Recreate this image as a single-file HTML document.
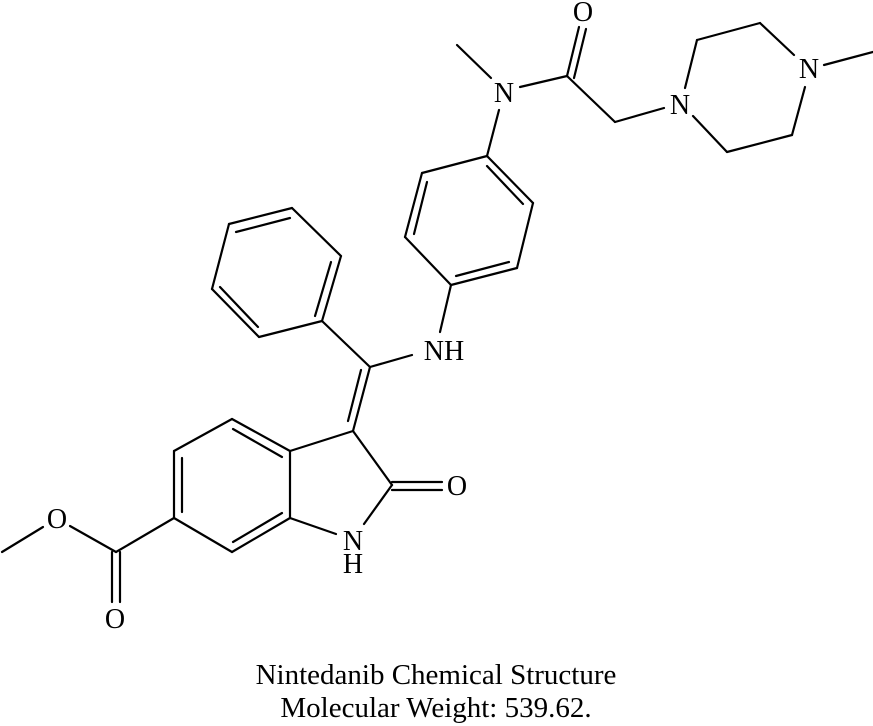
<!DOCTYPE html>
<html><head><style>
html,body{margin:0;padding:0;background:#fff;}
svg{display:block}
text{font-family:"Liberation Serif",serif;fill:#000}
</style></head><body>
<svg width="873" height="726" viewBox="0 0 873 726" xmlns="http://www.w3.org/2000/svg">
<g stroke="#000" stroke-width="2.2" fill="none" stroke-linecap="round">
<line x1="232" y1="419" x2="174" y2="451"/>
<line x1="174" y1="451" x2="174" y2="518"/>
<line x1="174" y1="518" x2="232" y2="552"/>
<line x1="232" y1="552" x2="290" y2="518"/>
<line x1="290" y1="518" x2="290" y2="451"/>
<line x1="290" y1="451" x2="232" y2="419"/>
<line x1="182" y1="458" x2="182" y2="512"/>
<line x1="233" y1="542" x2="282" y2="513"/>
<line x1="233" y1="429" x2="282" y2="457"/>
<line x1="290" y1="451" x2="353" y2="431"/>
<line x1="353" y1="431" x2="392" y2="485"/>
<line x1="392" y1="485" x2="364" y2="524"/>
<line x1="290" y1="518" x2="336" y2="534"/>
<line x1="392" y1="482" x2="442" y2="482"/>
<line x1="392" y1="490" x2="442" y2="490"/>
<line x1="174" y1="518" x2="116" y2="552"/>
<line x1="116" y1="552" x2="70" y2="526"/>
<line x1="43" y1="527" x2="2" y2="552"/>
<line x1="112" y1="552" x2="112" y2="602"/>
<line x1="120" y1="552" x2="120" y2="602"/>
<line x1="370" y1="367" x2="353" y2="431"/>
<line x1="361" y1="370" x2="348" y2="421"/>
<line x1="370" y1="367" x2="322" y2="321"/>
<line x1="292" y1="208" x2="341" y2="256"/>
<line x1="341" y1="256" x2="322" y2="321"/>
<line x1="322" y1="321" x2="259" y2="337"/>
<line x1="259" y1="337" x2="212" y2="289"/>
<line x1="212" y1="289" x2="229" y2="224"/>
<line x1="229" y1="224" x2="292" y2="208"/>
<line x1="236" y1="232" x2="290" y2="218"/>
<line x1="331" y1="262" x2="315" y2="316"/>
<line x1="258" y1="327" x2="220" y2="287"/>
<line x1="370" y1="367" x2="412" y2="355"/>
<line x1="440" y1="332" x2="451" y2="285"/>
<line x1="451" y1="285" x2="517" y2="268"/>
<line x1="517" y1="268" x2="533" y2="203"/>
<line x1="533" y1="203" x2="487" y2="156"/>
<line x1="487" y1="156" x2="422" y2="173"/>
<line x1="422" y1="173" x2="405" y2="237"/>
<line x1="405" y1="237" x2="451" y2="285"/>
<line x1="487" y1="166" x2="523" y2="204"/>
<line x1="456" y1="276" x2="509" y2="262"/>
<line x1="427" y1="182" x2="414" y2="234"/>
<line x1="487" y1="156" x2="499" y2="110"/>
<line x1="457" y1="45" x2="491" y2="78"/>
<line x1="520" y1="87" x2="567" y2="76"/>
<line x1="567" y1="76" x2="579" y2="27"/>
<line x1="574" y1="78" x2="586" y2="29"/>
<line x1="567" y1="76" x2="615" y2="122"/>
<line x1="615" y1="122" x2="664" y2="108"/>
<line x1="685" y1="88" x2="697" y2="40"/>
<line x1="697" y1="40" x2="760" y2="23"/>
<line x1="760" y1="23" x2="794" y2="55"/>
<line x1="805" y1="87" x2="792" y2="135"/>
<line x1="792" y1="135" x2="727" y2="152"/>
<line x1="727" y1="152" x2="693" y2="116"/>
<line x1="824" y1="65" x2="873" y2="52"/>
</g>
<g font-size="28">
<text x="457" y="495" text-anchor="middle">O</text>
<text x="353" y="550" text-anchor="middle">N</text>
<text x="353" y="573" text-anchor="middle">H</text>
<text x="57" y="528" text-anchor="middle">O</text>
<text x="115" y="628" text-anchor="middle">O</text>
<text x="444" y="360" text-anchor="middle">NH</text>
<text x="504" y="102" text-anchor="middle">N</text>
<text x="583" y="21" text-anchor="middle">O</text>
<text x="680" y="114" text-anchor="middle">N</text>
<text x="809" y="78" text-anchor="middle">N</text>
</g>
<text x="436" y="684" font-size="29" text-anchor="middle">Nintedanib Chemical Structure</text>
<text x="436" y="717" font-size="29" text-anchor="middle">Molecular Weight: 539.62.</text>
</svg>
</body></html>
